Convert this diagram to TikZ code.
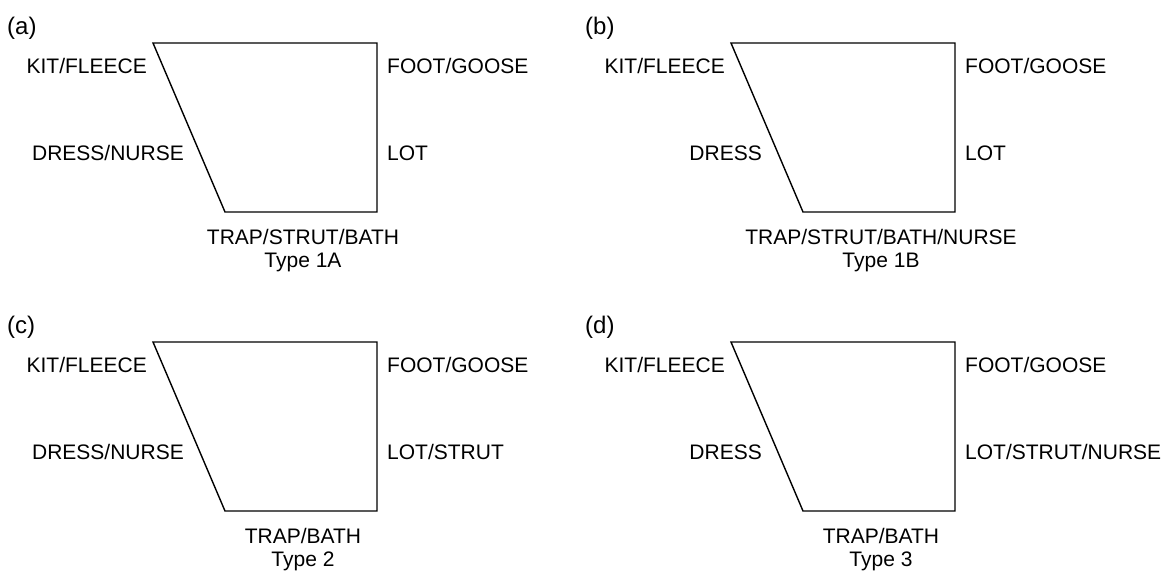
\documentclass[tikz,border=0pt]{standalone}
\usepackage{fontspec}
\setmainfont{Liberation Sans}
\begin{document}
\begin{tikzpicture}[x=1pt,y=-1pt,
  lbl/.style={inner sep=0pt,font=\fontsize{21}{23}\selectfont},
  taglbl/.style={inner sep=0pt,font=\fontsize{24}{26}\selectfont},
  shapeline/.style={draw=black,line width=1.4pt,line join=miter}]
\useasboundingbox (0,0) rectangle (1163,572);
\foreach \dx/\dy/\tag/\dl/\rl/\bl/\ty [count=\i] in {
  0/0/(a)/DRESS\slash NURSE/LOT/TRAP\slash STRUT\slash BATH/Type 1A,
  578/0/(b)/DRESS/LOT/TRAP\slash STRUT\slash BATH\slash NURSE/Type 1B,
  0/299/(c)/DRESS\slash NURSE/LOT\slash STRUT/TRAP\slash BATH/Type 2,
  578/299/(d)/DRESS/LOT\slash STRUT\slash NURSE/TRAP\slash BATH/Type 3}{
\begin{scope}[shift={(\dx,\dy)}]
  \coordinate (tl\i) at (153,43);
  \coordinate (tr\i) at (377,43);
  \coordinate (br\i) at (377,212);
  \coordinate (bl\i) at (225,212);
  \draw[shapeline] (tl\i) -- (tr\i) -- (br\i) -- (bl\i) -- cycle;
  \node[taglbl,anchor=west] (tag\i) at (7,28) {\tag};
  \node[lbl,anchor=east] (kit\i) at (147,66) {KIT/FLEECE};
  \node[lbl,anchor=east] (dress\i) at (184,153) {\dl};
  \node[lbl,anchor=west] (foot\i) at (387,66) {FOOT/GOOSE};
  \node[lbl,anchor=west] (lot\i) at (387,153) {\rl};
  \node[lbl] (bot\i) at (303,237) {\bl};
  \node[lbl] (type\i) at (303,262) {\ty};
\end{scope}}
\end{tikzpicture}
\end{document}
